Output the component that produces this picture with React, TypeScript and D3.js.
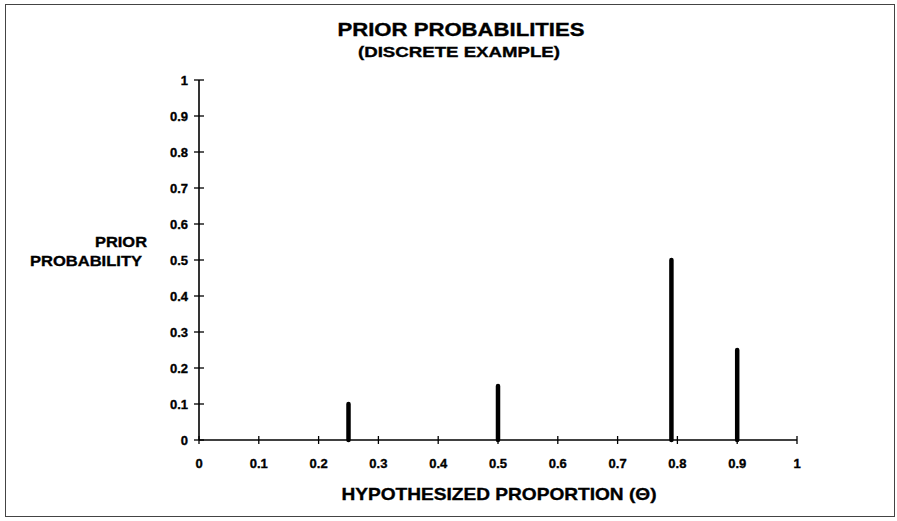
import { useEffect, useRef } from 'react';
import * as d3 from 'd3';

const THETA = [0.25, 0.5, 0.79, 0.9];
const PRIOR = [0.1, 0.15, 0.5, 0.25];
const X_TICKS = [0, 0.1, 0.2, 0.3, 0.4, 0.5, 0.6, 0.7, 0.8, 0.9, 1];
const Y_TICKS = [0, 0.1, 0.2, 0.3, 0.4, 0.5, 0.6, 0.7, 0.8, 0.9, 1];

const W = 897;
const H = 521;
const MARGIN = { top: 80, right: 100, bottom: 81, left: 199 };
const FONT = '"Liberation Sans", Arial, Helvetica, sans-serif';

export default function App() {
  const svgRef = useRef<SVGSVGElement>(null);

  useEffect(() => {
    const svg = svgRef.current;
    if (!svg) return;
    const root = d3.select(svg);
    root.selectAll('*').remove();

    const innerW = W - MARGIN.left - MARGIN.right;
    const innerH = H - MARGIN.top - MARGIN.bottom;

    root.append('rect').attr('width', W).attr('height', H).attr('fill', '#fff');

    // scanned frame
    root.append('rect')
      .attr('x', 5.5).attr('y', 4.5)
      .attr('width', 889).attr('height', 512)
      .attr('fill', 'none')
      .attr('stroke', '#444')
      .attr('stroke-width', 1);

    const xScale = d3.scaleLinear().domain([0, 1]).range([0, innerW]);
    const yScale = d3.scaleLinear().domain([0, 1]).range([innerH, 0]);

    const g = root.append('g').attr('transform', `translate(${MARGIN.left},${MARGIN.top})`);

    const boldText = (sel: d3.Selection<any, unknown, null, undefined>, size: number) =>
      sel.attr('font-family', FONT)
        .attr('font-weight', 'bold')
        .attr('font-size', size)
        .attr('fill', '#000')
        .attr('stroke', '#000')
        .attr('stroke-width', 0.35);

    // Titles
    boldText(root.append('text'), 18)
      .attr('x', 461).attr('y', 36)
      .attr('text-anchor', 'middle')
      .attr('textLength', 247)
      .attr('lengthAdjust', 'spacingAndGlyphs')
      .text('PRIOR PROBABILITIES');
    boldText(root.append('text'), 15)
      .attr('x', 459).attr('y', 57)
      .attr('text-anchor', 'middle')
      .attr('textLength', 202)
      .attr('lengthAdjust', 'spacingAndGlyphs')
      .text('(DISCRETE EXAMPLE)');

    // Y axis
    const yAxis = g.append('g');
    yAxis.append('line')
      .attr('x1', 0).attr('x2', 0)
      .attr('y1', yScale(1)).attr('y2', yScale(0))
      .attr('stroke', '#000').attr('stroke-width', 1.6);
    Y_TICKS.forEach((t) => {
      yAxis.append('line')
        .attr('x1', -5).attr('x2', 5)
        .attr('y1', yScale(t)).attr('y2', yScale(t))
        .attr('stroke', '#000').attr('stroke-width', 1.3);
      boldText(yAxis.append('text'), 13)
        .attr('x', -11).attr('y', yScale(t))
        .attr('dy', '0.36em')
        .attr('text-anchor', 'end')
        .text(String(t));
    });

    // X axis
    const xAxis = g.append('g').attr('transform', `translate(0,${innerH})`);
    xAxis.append('line')
      .attr('x1', 0).attr('x2', xScale(1))
      .attr('y1', 0).attr('y2', 0)
      .attr('stroke', '#000').attr('stroke-width', 1.6);
    X_TICKS.forEach((t) => {
      xAxis.append('line')
        .attr('x1', xScale(t)).attr('x2', xScale(t))
        .attr('y1', -4).attr('y2', 4)
        .attr('stroke', '#000').attr('stroke-width', 1.3);
      boldText(xAxis.append('text'), 13)
        .attr('x', xScale(t)).attr('y', 28)
        .attr('text-anchor', 'middle')
        .text(String(t));
    });

    // Spikes
    THETA.forEach((th, i) => {
      g.append('line')
        .attr('x1', xScale(th)).attr('x2', xScale(th))
        .attr('y1', yScale(0)).attr('y2', yScale(PRIOR[i]))
        .attr('stroke', '#000')
        .attr('stroke-width', 4.5)
        .attr('stroke-linecap', 'round');
    });

    // Axis titles
    boldText(root.append('text'), 17)
      .attr('x', 499).attr('y', 500)
      .attr('text-anchor', 'middle')
      .attr('textLength', 315)
      .attr('lengthAdjust', 'spacingAndGlyphs')
      .text('HYPOTHESIZED PROPORTION (\u0398)');
    boldText(root.append('text'), 15)
      .attr('x', 121).attr('y', 247)
      .attr('text-anchor', 'middle')
      .attr('textLength', 52)
      .attr('lengthAdjust', 'spacingAndGlyphs')
      .text('PRIOR');
    boldText(root.append('text'), 15)
      .attr('x', 86).attr('y', 266)
      .attr('text-anchor', 'middle')
      .attr('textLength', 112)
      .attr('lengthAdjust', 'spacingAndGlyphs')
      .text('PROBABILITY');
  }, []);

  return (
    <svg
      ref={svgRef}
      width={W}
      height={H}
      style={{ position: 'absolute', top: 0, left: 0, display: 'block' }}
    />
  );
}
